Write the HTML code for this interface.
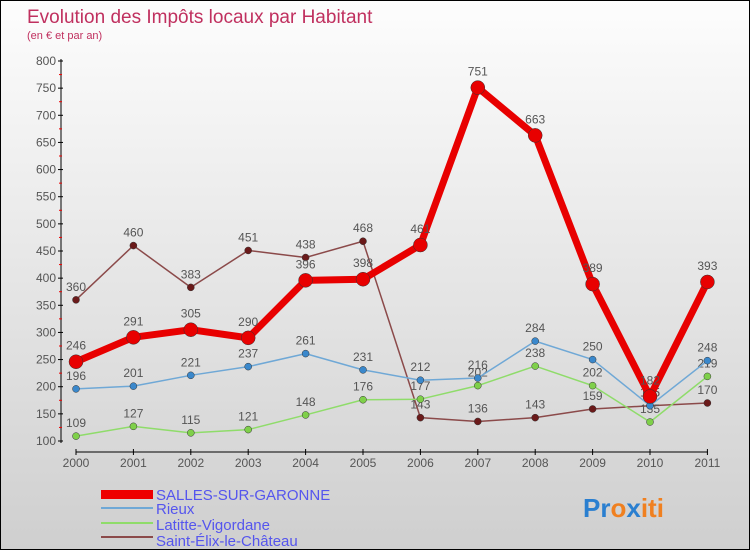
<!DOCTYPE html>
<html><head><meta charset="utf-8"><style>
body{margin:0;}
#wrap{width:748px;height:548px;border:1px solid #000;background:linear-gradient(#fdfdfd,#cfcfcf);position:relative;overflow:hidden;font-family:"Liberation Sans",sans-serif;}
</style></head><body>
<div id="wrap">
<svg id="chart" width="748" height="548" xmlns="http://www.w3.org/2000/svg">
<text x="26" y="22" font-size="19" fill="#c0305f">Evolution des Impôts locaux par Habitant</text>
<text x="26" y="38" font-size="11" fill="#c0305f">(en € et par an)</text>
<g id="axes"></g>
<g id="series"></g>
<g id="legend" font-size="15" fill="#5555ee">
<rect x="100" y="489" width="52" height="9" fill="#e00"/>
<text x="155" y="499">SALLES-SUR-GARONNE</text>
<rect x="100" y="506" width="52" height="2" fill="#6fa8d6"/>
<text x="155" y="513">Rieux</text>
<rect x="100" y="521" width="52" height="2" fill="#8fdc6a"/>
<text x="155" y="529">Latitte-Vigordane</text>
<rect x="100" y="535" width="52" height="2" fill="#8b4a4a"/>
<text x="155" y="545">Saint-Élix-le-Château</text>
</g>
<text x="582" y="516" font-size="26" font-weight="bold"><tspan fill="#2a7fd0">Pr</tspan><tspan fill="#f08020">o</tspan><tspan fill="#2a7fd0">x</tspan><tspan fill="#f08020">iti</tspan></text>
</svg>
</div>
<script>
const years=["2000","2001","2002","2003","2004","2005","2006","2007","2008","2009","2010","2011"];
const yTicks=[100,150,200,250,300,350,400,450,500,550,600,650,700,750,800];
const salles=[246,291,305,290,396,398,461,751,663,389,182,393];
const rieux=[196,201,221,237,261,231,212,216,284,250,165,248];
const latitte=[109,127,115,121,148,176,177,202,238,202,135,219];
const saintElix=[360,460,383,451,438,468,143,136,143,159,165,170];
const NS="http://www.w3.org/2000/svg";
function xs(i){return 75+i*57.4;}
function ys(v){return 440-(v-100)*380/700;}
function mk(tag,attrs,parent){const e=document.createElementNS(NS,tag);for(const k in attrs)e.setAttribute(k,attrs[k]);parent.appendChild(e);return e;}
const axes=document.getElementById('axes');
let yl=mk('line',{x1:60,y1:58,x2:60,y2:442,stroke:'#000'},axes);


let xl=mk('line',{x1:75,y1:451,x2:707,y2:451,stroke:'#000'},axes);


yTicks.forEach((t,i)=>{
  const y=ys(t);
  mk('line',{x1:57,y1:y,x2:62,y2:y,stroke:'#000'},axes);
  if(i<yTicks.length-1)mk('line',{x1:58,y1:ys(t+25),x2:61,y2:ys(t+25),stroke:'#e00'},axes);
  const tx=mk('text',{x:55,y:y+4,'font-size':12,fill:'#555','text-anchor':'end'},axes);
  tx.textContent=t;
  
  
});
years.forEach((yr,i)=>{
  const x=xs(i);
  mk('line',{x1:x,y1:448,x2:x,y2:454,stroke:'#000'},axes);
  const tx=mk('text',{x:x,y:466,'font-size':12,fill:'#555','text-anchor':'middle'},axes);
  tx.textContent=yr;
  
  
});
const ser=document.getElementById('series');
function draw(vals,color,dot,w,r,name,lblOff){
  const g=mk('g',{},ser);
  
  
  const pts=vals.map((v,i)=>xs(i)+','+ys(v)).join(' ');
  mk('polyline',{points:pts,fill:'none',stroke:color,'stroke-width':w,'stroke-linejoin':'round'},g);
  vals.forEach((v,i)=>{
    const c=mk('circle',{cx:xs(i),cy:ys(v),r:r,fill:dot,stroke:'#333','stroke-width':0.5},g);
    
    
    const t=mk('text',{x:xs(i),y:ys(v)-lblOff,'font-size':12,fill:'#555','text-anchor':'middle'},g);
    t.textContent=v;
  });
}
draw(saintElix,'#8b4a4a','#6b1a1a',1.5,3.5,'saint-elix',9);
draw(latitte,'#8fdc6a','#7fd04a',1.5,3.5,'latitte',9);
draw(rieux,'#6fa8d6','#3a88cc',1.5,3.5,'rieux',9);
draw(salles,'#e80000','#e80000',7,7,'salles',12);
</script>
</body></html>
